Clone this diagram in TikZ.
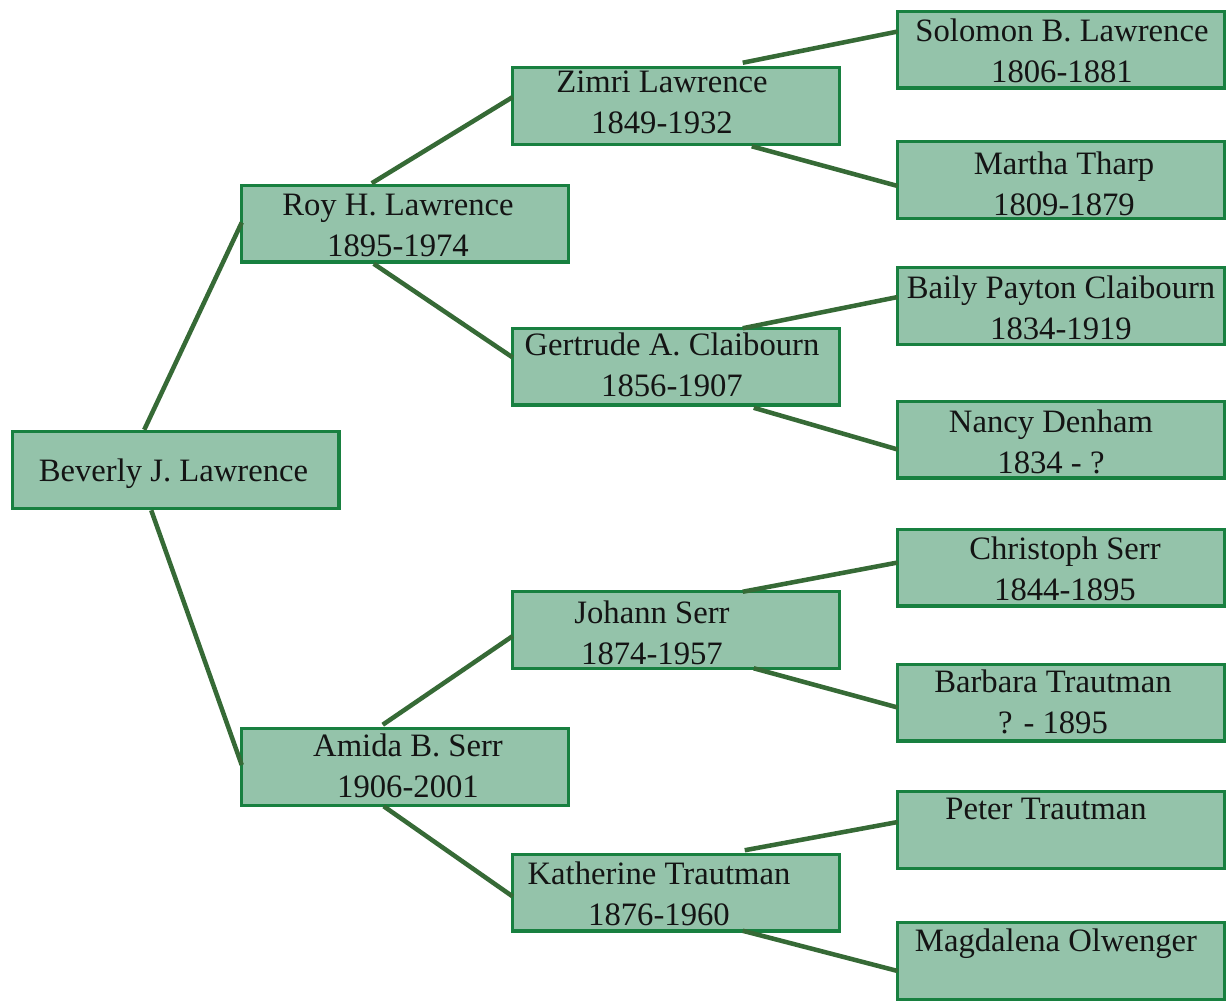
\documentclass[tikz,border=0pt]{standalone}
\usepackage{fontspec}
\setmainfont{Liberation Serif}
\usetikzlibrary{calc}
\definecolor{boxfill}{RGB}{148,195,170}
\definecolor{boxline}{RGB}{24,128,64}
\definecolor{linkc}{RGB}{54,106,54}
\newcommand\twol[2]{\begin{tabular}[t]{@{}c@{}}#1\\#2\end{tabular}}
\begin{document}
\begin{tikzpicture}[x=0.75pt,y=-0.75pt,
  box/.style={draw=boxline, fill=boxfill, line width=2.6pt, minimum width=244.9pt, minimum height=57.4pt, inner sep=0pt, outer sep=0pt},
  txt/.style={anchor=base, inner sep=0pt, font=\fontsize{24.5}{30.75}\selectfont, text=black!92},
  link/.style={draw=linkc, line width=3.4pt}]
\useasboundingbox (0,0) rectangle (1227,1001);
% boxes
\node[box] (bev) at (175.5,470) {};
\node[box] (roy) at (405,223.5) {};
\node[box] (amida) at (405,767) {};
\node[box] (zimri) at (676,106) {};
\node[box] (gert) at (676,366.5) {};
\node[box] (johann) at (676,630) {};
\node[box] (kath) at (676,892.5) {};
\node[box] (sol) at (1061,49.5) {};
\node[box] (mar) at (1061,180) {};
\node[box] (bai) at (1061,306) {};
\node[box] (nan) at (1061,439.5) {};
\node[box] (chr) at (1061,567.5) {};
\node[box] (bar) at (1061,702.5) {};
\node[box] (pet) at (1061,830) {};
\node[box] (mag) at (1061,961) {};
% texts
\node[txt] (bev-t) at (173.5,481) {Beverly J. Lawrence};
\node[txt] (roy-t) at (398,215) {\twol{Roy H. Lawrence}{1895-1974}};
\node[txt] (amida-t) at (408,756) {\twol{Amida B. Serr}{1906-2001}};
\node[txt] (zimri-t) at (662,92) {\twol{Zimri Lawrence}{1849-1932}};
\node[txt] (gert-t) at (672,355) {\twol{Gertrude A. Claibourn}{1856-1907}};
\node[txt] (johann-t) at (652,623) {\twol{Johann Serr}{1874-1957}};
\node[txt] (kath-t) at (659,884) {\twol{Katherine Trautman}{1876-1960}};
\node[txt] (sol-t) at (1062,41) {\twol{Solomon B. Lawrence}{1806-1881}};
\node[txt] (mar-t) at (1064,174) {\twol{Martha Tharp}{1809-1879}};
\node[txt] (bai-t) at (1061,298) {\twol{Baily Payton Claibourn}{1834-1919}};
\node[txt] (nan-t) at (1051,432) {\twol{Nancy Denham}{1834 - ?}};
\node[txt] (chr-t) at (1065,559) {\twol{Christoph Serr}{1844-1895}};
\node[txt] (bar-t) at (1053,692) {\twol{Barbara Trautman}{? - 1895}};
\node[txt] (pet-t) at (1046,819) {Peter Trautman};
\node[txt] (mag-t) at (1056,951) {Magdalena Olwenger};
% connectors
\draw[link] ($(bev.north west)+(132,-2)$) -- ($(roy.west)+(0,-1)$);
\draw[link] ($(bev.south west)+(139,2)$) -- ($(amida.west)+(0,-2)$);
\draw[link] ($(roy.north west)+(130,-2)$) -- ($(zimri.west)+(0,-9)$);
\draw[link] ($(roy.south west)+(132,2)$) -- ($(gert.west)+(0,-9)$);
\draw[link] ($(amida.north west)+(141,-4)$) -- ($(johann.west)+(0,6)$);
\draw[link] ($(amida.south west)+(142,1)$) -- ($(kath.west)+(0,4)$);
\draw[link] ($(zimri.north west)+(230,-5)$) -- ($(sol.west)+(0,-18)$);
\draw[link] ($(zimri.south west)+(239,2)$) -- ($(mar.west)+(0,6)$);
\draw[link] ($(gert.north west)+(230,0)$) -- ($(bai.west)+(0,-9)$);
\draw[link] ($(gert.south west)+(241,3)$) -- ($(nan.west)+(0,10)$);
\draw[link] ($(johann.north west)+(230,0)$) -- ($(chr.west)+(0,-5)$);
\draw[link] ($(johann.south west)+(241,0)$) -- ($(bar.west)+(0,5)$);
\draw[link] ($(kath.north west)+(232,-4)$) -- ($(pet.west)+(0,-8)$);
\draw[link] ($(kath.south west)+(230,0)$) -- ($(mag.west)+(0,10)$);
\end{tikzpicture}
\end{document}
